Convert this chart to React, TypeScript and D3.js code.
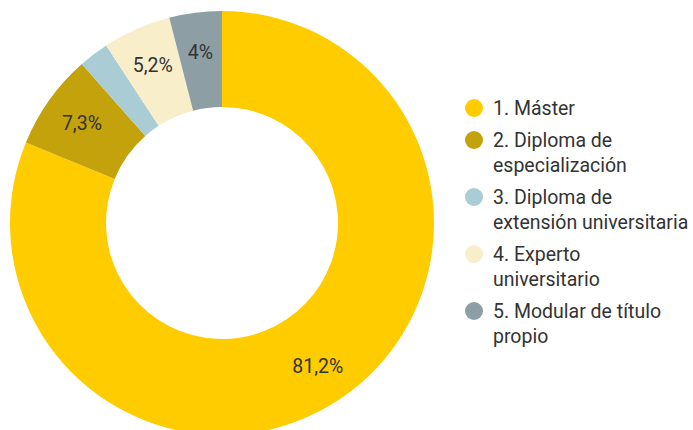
import React, { useEffect, useRef } from 'react';
import * as d3 from 'd3';

const categories = [
  ['1. Máster'],
  ['2. Diploma de', 'especialización'],
  ['3. Diploma de', 'extensión universitaria'],
  ['4. Experto', 'universitario'],
  ['5. Modular de título', 'propio'],
];
const values = [81.2, 7.3, 2.3, 5.2, 4];
const labels = ['81,2%', '7,3%', '', '5,2%', '4%'];
const colors = ['#FFCC00', '#C4A20B', '#A9CCD5', '#F8EECA', '#8D9EA5'];

const W = 693;
const H = 430;

export default function App() {
  const svgRef = useRef<SVGSVGElement>(null);

  useEffect(() => {
    if (!svgRef.current) return;
    const svg = d3.select(svgRef.current);
    svg.selectAll('*').remove();

    const cx = 222;
    const cy = 223;
    const outer = 212;
    const inner = 116;

    const pie = d3.pie<number>().sort(null).value((d) => d);
    const arc = d3.arc<d3.PieArcDatum<number>>().innerRadius(inner).outerRadius(outer);
    const labelArc = d3.arc<d3.PieArcDatum<number>>().innerRadius(172).outerRadius(172);
    const arcs = pie(values);

    const g = svg.append('g').attr('transform', `translate(${cx},${cy})`);

    g.selectAll('path')
      .data(arcs)
      .enter()
      .append('path')
      .attr('d', arc)
      .attr('fill', (_, i) => colors[i]);

    g.selectAll('text')
      .data(arcs)
      .enter()
      .append('text')
      .attr('transform', (d) => `translate(${labelArc.centroid(d)})`)
      .attr('text-anchor', 'middle')
      .attr('dy', '0.35em')
      .style('font-family', 'Roboto, sans-serif')
      .style('font-size', '19.5px')
      .style('fill', '#333')
      .text((_, i) => labels[i]);

    // Legend
    const lineH = 25;
    const gap = 7;
    const legend = svg.append('g').attr('transform', 'translate(474, 108)');
    let y = 0;
    categories.forEach((lines, i) => {
      const item = legend.append('g').attr('transform', `translate(0,${y})`);
      item.append('circle').attr('r', 9).attr('fill', colors[i]);
      lines.forEach((t, j) => {
        item
          .append('text')
          .attr('x', 19)
          .attr('y', j * lineH)
          .attr('dy', '0.35em')
          .style('font-family', 'Roboto, sans-serif')
          .style('font-size', '19.5px')
          .style('fill', '#333')
          .text(t);
      });
      y += lines.length * lineH + gap;
    });
  }, []);

  return (
    <svg
      ref={svgRef}
      width={W}
      height={H}
      style={{ position: 'absolute', left: 0, top: 0, background: '#fff' }}
    />
  );
}
